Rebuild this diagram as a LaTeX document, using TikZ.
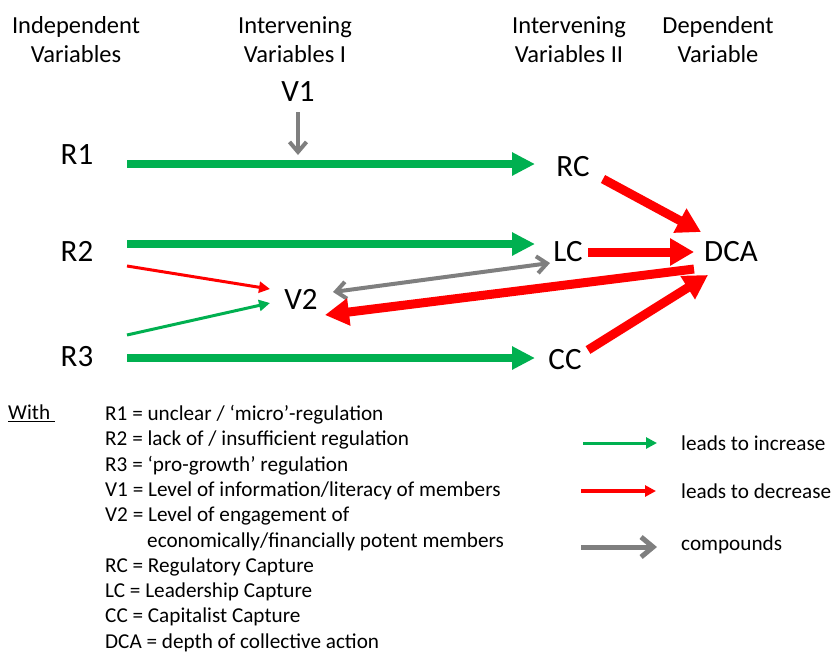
\documentclass[tikz,border=0pt]{standalone}
\usepackage{fontspec}
\setmainfont{Carlito}
\usetikzlibrary{arrows.meta,calc}
\definecolor{incgreen}{RGB}{0,176,80}
\definecolor{compgray}{RGB}{127,127,127}

\begin{document}
\begin{tikzpicture}[x=1pt,y=-1pt,
  var/.style={inner sep=0pt,font=\fontsize{31}{36}\selectfont},
  head/.style={inner sep=0pt,align=center,font=\fontsize{24.5}{29}\selectfont},
  leg/.style={inner sep=0pt,font=\fontsize{21.2}{25.3}\selectfont},
  inc/.style={incgreen,line width=8pt,-{Triangle[length=23pt,width=22pt]}},
  incthin/.style={incgreen,line width=3pt,-{Triangle[length=11pt,width=11pt]}},
  dec/.style={red,line width=9pt,-{Triangle[length=24pt,width=26pt]}},
  decthin/.style={red,line width=3pt,-{Triangle[length=11pt,width=11pt]}},
  comp/.style={compgray,line width=4pt,-{Straight Barb[length=10pt,width=17pt]}},
  compboth/.style={compgray,line width=4pt,
    {Straight Barb[length=10pt,width=17pt]}-{Straight Barb[length=10pt,width=17pt]}}]

  \useasboundingbox (0,0) rectangle (832,654);

  % column headings
  \node[head] (indep)   at (76,39.5)  {Independent\\Variables};
  \node[head] (interI)  at (295,39.5) {Intervening\\Variables I};
  \node[head] (interII) at (569,39.5) {Intervening\\Variables II};
  \node[head] (dep)     at (718,39.5) {Dependent\\Variable};

  % variables
  \node[var] (V1)  at (298,92)  {V1};
  \node[var] (R1)  at (77,155)  {R1};
  \node[var] (R2)  at (77,251)  {R2};
  \node[var] (R3)  at (77,357)  {R3};
  \node[var] (V2)  at (301,299) {V2};
  \node[var] (RC)  at (573,167) {RC};
  \node[var] (LC)  at (568,252) {LC};
  \node[var] (CC)  at (565,360) {CC};
  \node[var] (DCA) at (731,252) {DCA};

  % effects
  \draw[inc] ($(R1)+(50,9)$)  -- ($(RC)+(-38,-3)$);
  \draw[inc] ($(R2)+(50,-7)$) -- ($(LC)+(-33,-8)$);
  \draw[inc] ($(R3)+(50,1)$)  -- ($(CC)+(-30,-2)$);
  \draw[comp] ($(V1)+(0,20)$) -- ($(V1)+(0,63)$);
  \draw[decthin] ($(R2)+(50,15)$)  -- ($(V2)+(-31,-10)$);
  \draw[incthin] ($(R3)+(50,-22)$) -- ($(V2)+(-31,4)$);
  \draw[compboth] ($(V2)+(32,-7)$) -- ($(LC)+(-18,11)$);
  \draw[dec] ($(DCA)+(-37,17)$) -- ($(V2)+(24,16)$);
  \draw[dec] ($(RC)+(30,12)$)   -- ($(DCA)+(-30,-20)$);
  \draw[dec] ($(LC)+(20,0)$)    -- ($(DCA)+(-37,0)$);
  \draw[dec] ($(CC)+(23,-10)$)  -- ($(DCA)+(-23,23)$);

  % key
  \node[leg,anchor=north west] (with) at (8,405) {\underline{With\ }};
  \node[leg,anchor=north west,align=left] (defs) at (105,405)
    {R1 = unclear / ‘micro’-regulation\\
     R2 = lack of / insufficient regulation\\
     R3 = ‘pro-growth’ regulation\\
     V1 = Level of information/literacy of members\\
     V2 = Level of engagement of\\
     \hspace*{42pt}economically/financially potent members\\
     RC = Regulatory Capture\\
     LC = Leadership Capture\\
     CC = Capitalist Capture\\
     DCA = depth of collective action};

  \coordinate (incA) at (583,443);
  \coordinate (incB) at (657,443);
  \coordinate (decA) at (581,491);
  \coordinate (decB) at (656,491);
  \coordinate (compA) at (581,547);
  \coordinate (compB) at (657,547);
  \draw[incthin] (incA) -- (incB);
  \draw[decthin,line width=4pt] (decA) -- (decB);
  \draw[comp,line width=5pt,-{Straight Barb[length=12pt,width=20pt]}] (compA) -- (compB);
  \node[leg,anchor=west] (incTxt)  at (681,443) {leads to increase};
  \node[leg,anchor=west] (decTxt)  at (681,491) {leads to decrease};
  \node[leg,anchor=west] (compTxt) at (681,545) {compounds};
\end{tikzpicture}
\end{document}
